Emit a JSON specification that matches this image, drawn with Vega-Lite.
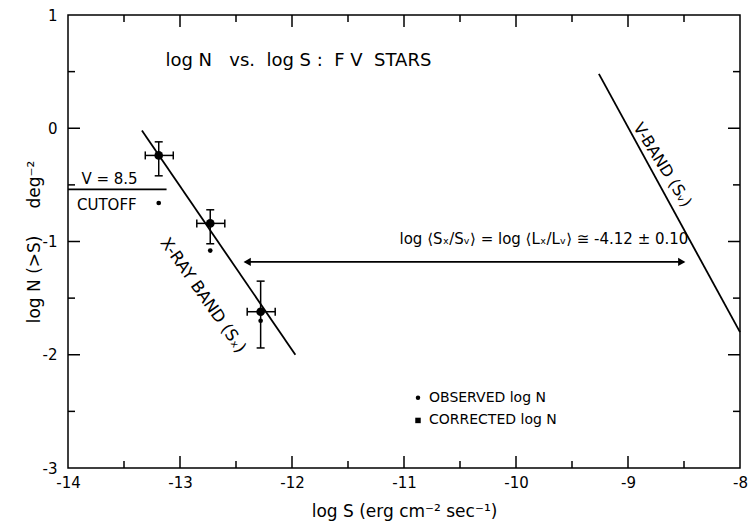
{
  "$schema": "https://vega.github.io/schema/vega-lite/v6.json",
  "width": 672,
  "height": 453,
  "autosize": {"type": "none"},
  "padding": {"left": 68, "top": 15, "right": 13, "bottom": 61},
  "background": "white",
  "config": {
    "font": "DejaVu Sans",
    "view": {"stroke": "black", "strokeWidth": 1.5},
    "axis": {
      "domain": false,
      "grid": false,
      "ticks": false,
      "labelColor": "black",
      "titleColor": "black",
      "labelFont": "DejaVu Sans",
      "titleFont": "DejaVu Sans",
      "labelFontSize": 15,
      "titleFontSize": 17,
      "titleFontWeight": "normal",
      "labelFlush": false
    }
  },
  "datasets": {
    "big": [
      {"x": -13.19, "y": -0.24, "xlo": -13.31, "xhi": -13.06, "ylo": -0.12, "yhi": -0.42},
      {"x": -12.73, "y": -0.84, "xlo": -12.85, "xhi": -12.6, "ylo": -0.72, "yhi": -1.02},
      {"x": -12.28, "y": -1.62, "xlo": -12.4, "xhi": -12.15, "ylo": -1.35, "yhi": -1.94}
    ],
    "obs": [
      {"x": -13.19, "y": -0.66},
      {"x": -12.73, "y": -1.08},
      {"x": -12.28, "y": -1.7}
    ],
    "lines": [
      {"s": "xray", "x": -13.34, "y": -0.02},
      {"s": "xray", "x": -11.97, "y": -2.0},
      {"s": "vband", "x": -9.26, "y": 0.48},
      {"s": "vband", "x": -8.0, "y": -1.8},
      {"s": "cutoff", "x": -14.0, "y": -0.54},
      {"s": "cutoff", "x": -13.12, "y": -0.54},
      {"s": "arrow", "x": -12.42, "y": -1.18},
      {"s": "arrow", "x": -8.5, "y": -1.18}
    ],
    "xt": [
      {"v": -13, "a": -3, "b": -2.894}, {"v": -12, "a": -3, "b": -2.894}, {"v": -11, "a": -3, "b": -2.894}, {"v": -10, "a": -3, "b": -2.894}, {"v": -9, "a": -3, "b": -2.894},
      {"v": -13, "a": 1, "b": 0.894}, {"v": -12, "a": 1, "b": 0.894}, {"v": -11, "a": 1, "b": 0.894}, {"v": -10, "a": 1, "b": 0.894}, {"v": -9, "a": 1, "b": 0.894},
      {"v": -13.5, "a": -3, "b": -2.938}, {"v": -12.5, "a": -3, "b": -2.938}, {"v": -11.5, "a": -3, "b": -2.938}, {"v": -10.5, "a": -3, "b": -2.938}, {"v": -9.5, "a": -3, "b": -2.938}, {"v": -8.5, "a": -3, "b": -2.938},
      {"v": -13.5, "a": 1, "b": 0.938}, {"v": -12.5, "a": 1, "b": 0.938}, {"v": -11.5, "a": 1, "b": 0.938}, {"v": -10.5, "a": 1, "b": 0.938}, {"v": -9.5, "a": 1, "b": 0.938}, {"v": -8.5, "a": 1, "b": 0.938}
    ],
    "yt": [
      {"v": -2, "a": -14, "b": -13.893}, {"v": -1, "a": -14, "b": -13.893}, {"v": 0, "a": -14, "b": -13.893},
      {"v": -2, "a": -8, "b": -8.107}, {"v": -1, "a": -8, "b": -8.107}, {"v": 0, "a": -8, "b": -8.107},
      {"v": -2.5, "a": -14, "b": -13.9375}, {"v": -1.5, "a": -14, "b": -13.9375}, {"v": -0.5, "a": -14, "b": -13.9375}, {"v": 0.5, "a": -14, "b": -13.9375},
      {"v": -2.5, "a": -8, "b": -8.0625}, {"v": -1.5, "a": -8, "b": -8.0625}, {"v": -0.5, "a": -8, "b": -8.0625}, {"v": 0.5, "a": -8, "b": -8.0625}
    ],
    "frame": [
      {"x": -14, "y": -3},
      {"x": -8, "y": 1}
    ]
  },
  "layer": [
    {
      "data": {"name": "frame"},
      "mark": {"type": "point", "opacity": 0},
      "encoding": {
        "x": {
          "field": "x", "type": "quantitative",
          "scale": {"domain": [-14, -8], "nice": false, "zero": false},
          "axis": {
            "values": [-14, -13, -12, -11, -10, -9, -8],
            "labelPadding": 7,
            "labelExpr": "datum.value < 0 ? '-' + abs(datum.value) : '' + datum.value",
            "title": "log S (erg cm⁻² sec⁻¹)",
            "titlePadding": 13
          }
        },
        "y": {
          "field": "y", "type": "quantitative",
          "scale": {"domain": [-3, 1], "nice": false, "zero": false},
          "axis": {
            "values": [-3, -2, -1, 0, 1],
            "labelPadding": 11,
            "labelExpr": "datum.value < 0 ? '-' + abs(datum.value) : '' + datum.value",
            "title": "log N (>S)\u00a0\u00a0\u00a0\u00a0 deg⁻²",
            "titlePadding": -1
          }
        }
      }
    },
    {
      "data": {"name": "xt"},
      "mark": {"type": "rule", "color": "black", "strokeWidth": 1.5},
      "encoding": {
        "x": {"field": "v", "type": "quantitative"},
        "y": {"field": "a", "type": "quantitative"},
        "y2": {"field": "b"}
      }
    },
    {
      "data": {"name": "yt"},
      "mark": {"type": "rule", "color": "black", "strokeWidth": 1.5},
      "encoding": {
        "y": {"field": "v", "type": "quantitative"},
        "x": {"field": "a", "type": "quantitative"},
        "x2": {"field": "b"}
      }
    },
    {
      "data": {"name": "lines"},
      "mark": {"type": "line", "color": "black", "strokeWidth": 1.8},
      "encoding": {
        "x": {"field": "x", "type": "quantitative"},
        "y": {"field": "y", "type": "quantitative"},
        "detail": {"field": "s"}
      }
    },
    {
      "data": {"values": [{"x": -12.4, "y": -1.18}]},
      "mark": {"type": "point", "shape": "triangle-left", "filled": true, "color": "black", "opacity": 1, "size": 70},
      "encoding": {
        "x": {"field": "x", "type": "quantitative"},
        "y": {"field": "y", "type": "quantitative"}
      }
    },
    {
      "data": {"values": [{"x": -8.52, "y": -1.18}]},
      "mark": {"type": "point", "shape": "triangle-right", "filled": true, "color": "black", "opacity": 1, "size": 70},
      "encoding": {
        "x": {"field": "x", "type": "quantitative"},
        "y": {"field": "y", "type": "quantitative"}
      }
    },
    {
      "data": {"name": "big"},
      "mark": {"type": "rule", "color": "black", "strokeWidth": 1.5},
      "encoding": {
        "x": {"field": "x", "type": "quantitative"},
        "y": {"field": "ylo", "type": "quantitative"},
        "y2": {"field": "yhi"}
      }
    },
    {
      "data": {"name": "big"},
      "mark": {"type": "rule", "color": "black", "strokeWidth": 1.5},
      "encoding": {
        "x": {"field": "xlo", "type": "quantitative"},
        "x2": {"field": "xhi"},
        "y": {"field": "y", "type": "quantitative"}
      }
    },
    {
      "data": {"name": "big"},
      "mark": {"type": "tick", "orient": "horizontal", "color": "black", "size": 8, "thickness": 1.5, "opacity": 1},
      "encoding": {
        "x": {"field": "x", "type": "quantitative"},
        "y": {"field": "ylo", "type": "quantitative"}
      }
    },
    {
      "data": {"name": "big"},
      "mark": {"type": "tick", "orient": "horizontal", "color": "black", "size": 8, "thickness": 1.5, "opacity": 1},
      "encoding": {
        "x": {"field": "x", "type": "quantitative"},
        "y": {"field": "yhi", "type": "quantitative"}
      }
    },
    {
      "data": {"name": "big"},
      "mark": {"type": "tick", "orient": "vertical", "color": "black", "size": 8, "thickness": 1.5, "opacity": 1},
      "encoding": {
        "x": {"field": "xlo", "type": "quantitative"},
        "y": {"field": "y", "type": "quantitative"}
      }
    },
    {
      "data": {"name": "big"},
      "mark": {"type": "tick", "orient": "vertical", "color": "black", "size": 8, "thickness": 1.5, "opacity": 1},
      "encoding": {
        "x": {"field": "xhi", "type": "quantitative"},
        "y": {"field": "y", "type": "quantitative"}
      }
    },
    {
      "data": {"name": "big"},
      "mark": {"type": "circle", "color": "black", "opacity": 1, "size": 75},
      "encoding": {
        "x": {"field": "x", "type": "quantitative"},
        "y": {"field": "y", "type": "quantitative"}
      }
    },
    {
      "data": {"name": "obs"},
      "mark": {"type": "circle", "color": "black", "opacity": 1, "size": 22},
      "encoding": {
        "x": {"field": "x", "type": "quantitative"},
        "y": {"field": "y", "type": "quantitative"}
      }
    },
    {
      "data": {"values": [{"x": -10.875, "y": -2.38}]},
      "mark": {"type": "circle", "color": "black", "opacity": 1, "size": 20},
      "encoding": {
        "x": {"field": "x", "type": "quantitative"},
        "y": {"field": "y", "type": "quantitative"}
      }
    },
    {
      "data": {"values": [{"x": -10.875, "y": -2.58}]},
      "mark": {"type": "square", "color": "black", "opacity": 1, "size": 30},
      "encoding": {
        "x": {"field": "x", "type": "quantitative"},
        "y": {"field": "y", "type": "quantitative"}
      }
    },
    {
      "data": {"values": [
        {"t": "OBSERVED log N", "x": -10.875, "y": -2.38},
        {"t": "CORRECTED log N", "x": -10.875, "y": -2.58}
      ]},
      "mark": {"type": "text", "align": "left", "baseline": "middle", "dx": 11, "fontSize": 14, "color": "black"},
      "encoding": {
        "x": {"field": "x", "type": "quantitative"},
        "y": {"field": "y", "type": "quantitative"},
        "text": {"field": "t"}
      }
    },
    {
      "data": {"values": [{"t": "log N\u00a0\u00a0 vs.\u00a0 log S :\u00a0 F Ⅴ\u00a0 STARS", "x": -13.13, "y": 0.59}]},
      "mark": {"type": "text", "align": "left", "baseline": "middle", "fontSize": 18, "color": "black"},
      "encoding": {
        "x": {"field": "x", "type": "quantitative"},
        "y": {"field": "y", "type": "quantitative"},
        "text": {"field": "t"}
      }
    },
    {
      "data": {"values": [
        {"t": "V = 8.5", "x": -13.88, "y": -0.45},
        {"t": "CUTOFF", "x": -13.92, "y": -0.68}
      ]},
      "mark": {"type": "text", "align": "left", "baseline": "middle", "fontSize": 15, "color": "black"},
      "encoding": {
        "x": {"field": "x", "type": "quantitative"},
        "y": {"field": "y", "type": "quantitative"},
        "text": {"field": "t"}
      }
    },
    {
      "data": {"values": [{"t": "log ⟨Sₓ/Sᵥ⟩ = log ⟨Lₓ/Lᵥ⟩ ≅ -4.12 ± 0.10", "x": -11.04, "y": -0.98}]},
      "mark": {"type": "text", "align": "left", "baseline": "middle", "fontSize": 15, "color": "black"},
      "encoding": {
        "x": {"field": "x", "type": "quantitative"},
        "y": {"field": "y", "type": "quantitative"},
        "text": {"field": "t"}
      }
    },
    {
      "data": {"values": [{"t": "X-RAY BAND (Sₓ)", "x": -12.795, "y": -1.475}]},
      "mark": {"type": "text", "align": "center", "baseline": "middle", "fontSize": 16.5, "angle": 55, "color": "black"},
      "encoding": {
        "x": {"field": "x", "type": "quantitative"},
        "y": {"field": "y", "type": "quantitative"},
        "text": {"field": "t"}
      }
    },
    {
      "data": {"values": [{"t": "V-BAND (Sᵥ)", "x": -8.785, "y": -0.38}]},
      "mark": {"type": "text", "align": "center", "baseline": "alphabetic", "dy": -7, "fontSize": 16, "angle": 58, "color": "black"},
      "encoding": {
        "x": {"field": "x", "type": "quantitative"},
        "y": {"field": "y", "type": "quantitative"},
        "text": {"field": "t"}
      }
    }
  ]
}
